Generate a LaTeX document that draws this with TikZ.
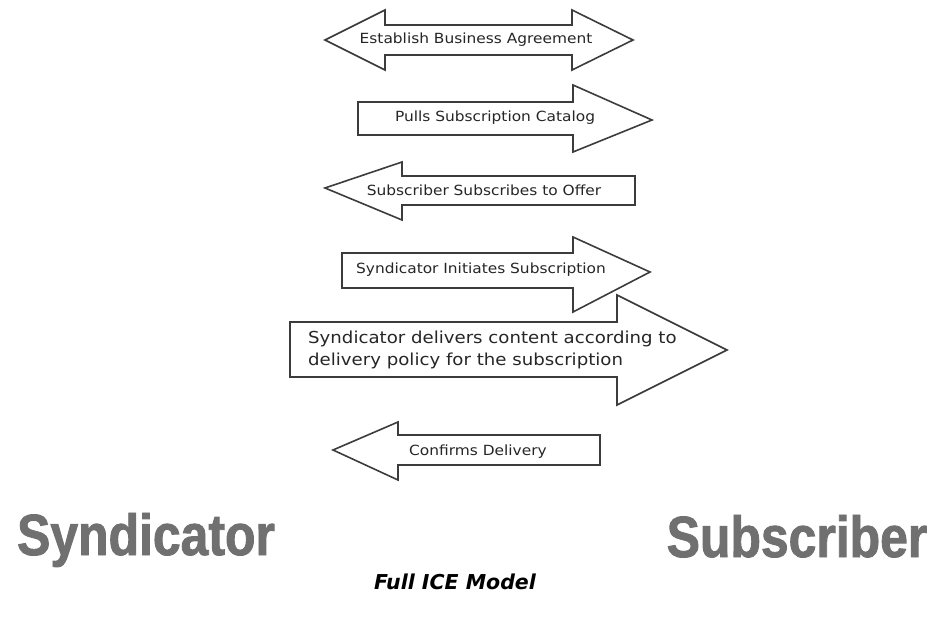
\documentclass[tikz,border=0pt]{standalone}
\usepackage{fontspec}
\newfontfamily\comicfont[FakeStretch=1.1]{DejaVu Sans}
\newfontfamily\bigfont[FakeStretch=0.86, FakeBold=1.5]{Liberation Sans}
\newfontfamily\capfont{DejaVu Sans}
\definecolor{outl}{HTML}{3C3C3C}
\definecolor{biggray}{HTML}{707070}
\tikzset{
  arrowshape/.style={draw=outl, line width=1.6pt, fill=white, line join=miter},
  arrowtext/.style={inner sep=0pt, font=\comicfont\fontsize{14}{16}\selectfont, text=black!85},
  bigtext/.style={inner sep=0pt, anchor=base, text=biggray, font=\bigfont\bfseries\fontsize{58}{60}\selectfont},
}
\begin{document}
\begin{tikzpicture}[x=1pt,y=-1pt]
\useasboundingbox (0,0) rectangle (928,636);
% 1 double arrow
\draw[arrowshape] (325,40) -- (385,10) -- (385,25) -- (572,25) -- (572,10) -- (633,40) -- (572,70) -- (572,55) -- (385,55) -- (385,70) -- cycle;
\node[arrowtext] (t1) at (476,40) {Establish Business Agreement};
% 2 right arrow
\draw[arrowshape] (358,102) -- (573,102) -- (573,85) -- (652,120) -- (573,152) -- (573,135) -- (358,135) -- cycle;
\node[arrowtext] (t2) at (495,118) {Pulls Subscription Catalog};
% 3 left arrow
\draw[arrowshape] (325,188) -- (402,162) -- (402,176) -- (635,176) -- (635,205) -- (402,205) -- (402,220) -- cycle;
\node[arrowtext] (t3) at (484,190) {Subscriber Subscribes to Offer};
% 4 right arrow
\draw[arrowshape] (342,253) -- (573,253) -- (573,237) -- (650,272) -- (573,312) -- (573,288) -- (342,288) -- cycle;
\node[arrowtext] (t4) at (481,270) {Syndicator Initiates Subscription};
% 5 big right arrow
\draw[arrowshape] (290,322) -- (617,322) -- (617,295) -- (727,350) -- (617,405) -- (617,377) -- (290,377) -- cycle;
\node[arrowtext, font=\comicfont\fontsize{16.5}{22}\selectfont, align=left, anchor=north west] (t5) at (308,331) {Syndicator delivers content according to\\delivery policy for the subscription};
% 6 left arrow
\draw[arrowshape] (333,450) -- (398,422) -- (398,435) -- (600,435) -- (600,465) -- (398,465) -- (398,480) -- cycle;
\node[arrowtext] (t6) at (478,452) {Confirms Delivery};
% labels
\node[bigtext] (syn) at (146,555) {Syndicator};
\node[bigtext] (sub) at (797,557) {Subscriber};
\node[inner sep=0pt, font=\capfont\bfseries\itshape\fontsize{20.5}{24}\selectfont] (cap) at (455,582) {Full ICE Model};
\end{tikzpicture}
\end{document}
